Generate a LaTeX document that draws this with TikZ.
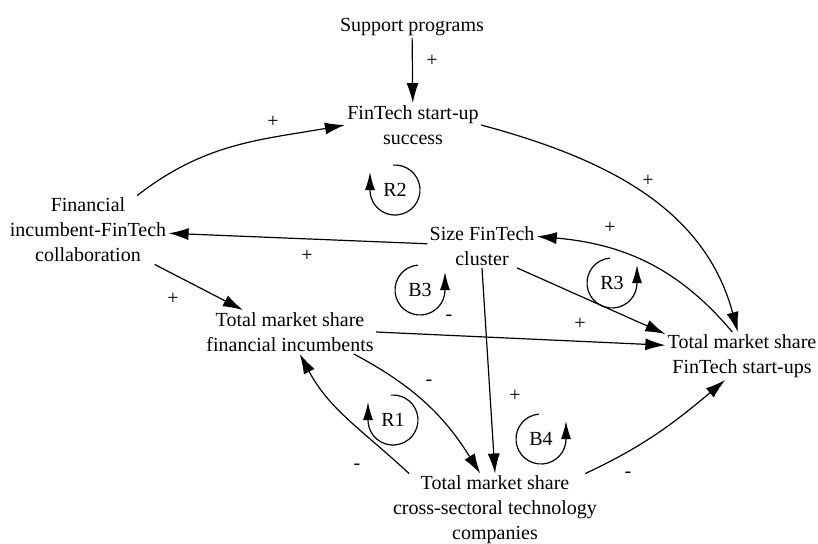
\documentclass[tikz,border=0pt]{standalone}
\usepackage{fontspec}
\setmainfont{Liberation Serif}
\usetikzlibrary{arrows.meta}
\begin{document}
\begin{tikzpicture}[x=0.5pt, y=0.5pt,
                var/.style={align=center, inner sep=1pt, font=\rmfamily\fontsize{10}{12.5}\selectfont},
                sign/.style={inner sep=0pt, font=\rmfamily\fontsize{10}{12}\selectfont},
                link/.style={-{Latex[length=10pt, width=6pt]}, line width=0.6pt},
                loopar/.style={-{Latex[length=9pt, width=5pt]}, line width=0.6pt}]
                \useasboundingbox (0,0) rectangle (818,543);

                \node[var] (sup) at (412,516) {Support programs};
                \node[var] (succ) at (413,418) {FinTech start-up\\success};
                \node[var] (collab) at (88,313) {Financial\\incumbent-FinTech\\collaboration};
                \node[var] (cluster) at (482,297) {Size FinTech\\cluster};
                \node[var] (inc) at (290,211) {Total market share\\financial incumbents};
                \node[var] (fts) at (742,187) {Total market share\\FinTech start-ups};
                \node[var] (cross) at (495,33) {Total market share\\cross-sectoral technology\\companies};

                \draw[link] (sup) -- (succ);
                \draw[link] (collab.35) to[out=38, in=190] (succ.west);
                \draw[link] (succ.east) to[out=-15, in=105] (fts.100);
                \draw[link] (cluster) -- (collab);
                \draw[link] (collab) -- (inc.155);
                \draw[link] (inc.east) -- (fts.172);
                \draw[link] (cluster.-32) -- (fts.164);
                \draw[link] (fts.112) to[out=130, in=-5] (cluster.10);
                \draw[link] (cluster.south) -- (cross.north);
                \draw[link] (inc.-19) to[out=-28, in=122] (cross.112);
                \draw[link] (cross.157) to[out=137, in=-62] (inc.-66);
                \draw[link] (cross.22) to[out=25, in=-140] (fts.-125);

                \node[sign] (s1) at (432,482) {+};
                \node[sign] (s2) at (273,421) {+};
                \node[sign] (s3) at (648,362) {+};
                \node[sign] (s4) at (307,287) {+};
                \node[sign] (s5) at (173,244) {+};
                \node[sign] (s6) at (449,225) {-};
                \node[sign] (s7) at (580,219) {+};
                \node[sign] (s8) at (610,315) {+};
                \node[sign] (s9) at (515,147) {+};
                \node[sign] (s10) at (429,160) {-};
                \node[sign] (s11) at (357,76) {-};
                \node[sign] (s12) at (628,68) {-};

                \node[var] (r2) at (395,353) {R2};
                \node[var] (b3) at (420,253) {B3};
                \node[var] (r3) at (612,260) {R3};
                \node[var] (r1) at (393,123) {R1};
                \node[var] (b4) at (541,104) {B4};

                \draw[loopar] ([shift={(95:25)}]r2.center) arc[start angle=95, end angle=-180, radius=25] -- ++(0,18);
                \draw[loopar] ([shift={(95:25)}]r1.center) arc[start angle=95, end angle=-180, radius=25] -- ++(0,18);
                \draw[loopar] ([shift={(95:25)}]b3.center) arc[start angle=95, end angle=360, radius=25] -- ++(0,18);
                \draw[loopar] ([shift={(95:25)}]r3.center) arc[start angle=95, end angle=360, radius=25] -- ++(0,18);
                \draw[loopar] ([shift={(95:25)}]b4.center) arc[start angle=95, end angle=360, radius=25] -- ++(0,18);
\end{tikzpicture}
\end{document}
